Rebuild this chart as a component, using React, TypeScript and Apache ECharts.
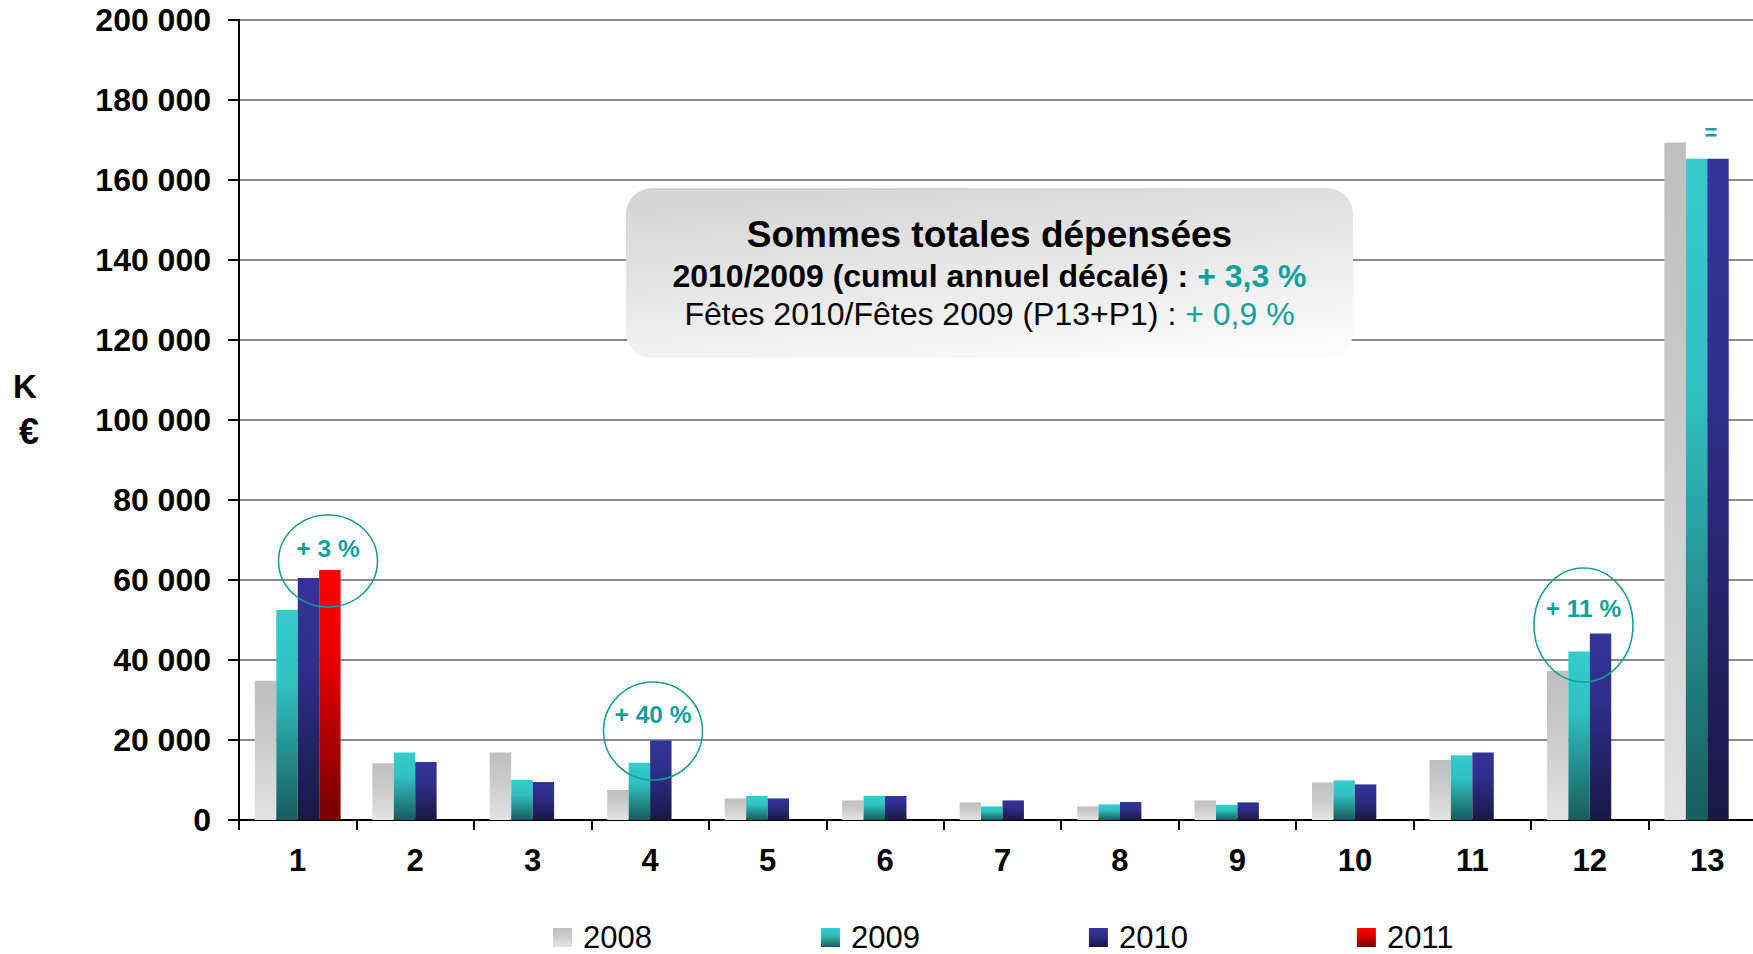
import React, { useEffect, useRef } from 'react';
import * as echarts from 'echarts';

const categories = ['1', '2', '3', '4', '5', '6', '7', '8', '9', '10', '11', '12', '13'];
const seriesNames = ['2008', '2009', '2010', '2011'];
const values2008 = [34800, 14200, 16900, 7500, 5400, 4900, 4400, 3400, 4900, 9400, 15000, 37300, 169400];
const values2009 = [52500, 16900, 10000, 14300, 6000, 6000, 3400, 3900, 3800, 9900, 16200, 42100, 165300];
const values2010 = [60500, 14500, 9500, 19900, 5400, 6000, 4900, 4500, 4400, 8900, 16900, 46600, 165300];
const values2011 = [62500, null, null, null, null, null, null, null, null, null, null, null, null];
const yTicks = { min: 0, max: 200000, interval: 20000 };
const boxTitle = 'Sommes totales dépensées';
const boxLine2 = '2010/2009 (cumul annuel décalé) : ';
const boxLine2Value = '+ 3,3 %';
const boxLine3 = 'Fêtes 2010/Fêtes 2009 (P13+P1) : ';
const boxLine3Value = '+ 0,9 %';
const circleLabels = ['+ 3 %', '+ 40 %', '+ 11 %'];
const equalLabel = '=';
const unitLabels = ['K', '€'];

const FONT = '"Liberation Sans", Arial, sans-serif';
const TEAL = '#139f9b';

export default function App() {
  const ref = useRef<HTMLDivElement>(null);
  useEffect(() => {
    const chart = echarts.init(ref.current!, null, { renderer: 'svg' });
    const grad = (c0: string, c1: string, c2: string) =>
      new echarts.graphic.LinearGradient(0, 0, 0, 1, [
        { offset: 0, color: c0 },
        { offset: 0.35, color: c1 },
        { offset: 1, color: c2 },
      ]);
    const colors = [
      grad('#bfbfbf', '#c8c8c8', '#e3e3e3'),
      grad('#33cccc', '#30c2c2', '#185c5c'),
      grad('#343399', '#302f8c', '#181846'),
      grad('#ff0000', '#e80000', '#760000'),
    ];
    const allValues = [values2008, values2009, values2010, values2011];
    const fmt = (v: number) => String(v).replace(/\B(?=(\d{3})+(?!\d))/g, ' ');

    const circles = [
      { cx: 328, cy: 561, rx: 49.5, ry: 46, ty: 548 },
      { cx: 653, cy: 731, rx: 49.5, ry: 49, ty: 714 },
      { cx: 1583.5, cy: 625, rx: 49.5, ry: 57, ty: 608 },
    ];

    const graphic: any[] = [];
    circles.forEach((c, i) => {
      graphic.push({
        type: 'ellipse',
        shape: { cx: c.cx, cy: c.cy, rx: c.rx, ry: c.ry },
        style: { fill: 'none', stroke: '#1a9d99', lineWidth: 1.6 },
        z: 10,
      });
      graphic.push({
        type: 'text',
        x: c.cx,
        y: c.ty,
        z: 11,
        style: {
          text: circleLabels[i],
          fill: TEAL,
          fontSize: 24.5,
          fontWeight: 'bold',
          fontFamily: FONT,
          align: 'center',
          verticalAlign: 'middle',
          textAlign: 'center',
          textVerticalAlign: 'middle',
        },
      });
    });
    graphic.push({
      type: 'text',
      x: 1711,
      y: 132,
      z: 11,
      style: {
        text: equalLabel,
        fill: TEAL,
        fontSize: 22,
        fontWeight: 'bold',
        fontFamily: FONT,
        align: 'center',
        verticalAlign: 'middle',
        textAlign: 'center',
        textVerticalAlign: 'middle',
      },
    });
    unitLabels.forEach((t, i) => {
      graphic.push({
        type: 'text',
        x: i === 0 ? 25 : 29,
        y: i === 0 ? 386 : 431,
        style: {
          text: t,
          fill: '#000',
          fontSize: i === 0 ? 33 : 36,
          fontWeight: 'bold',
          fontFamily: FONT,
          align: 'center',
          verticalAlign: 'middle',
          textAlign: 'center',
          textVerticalAlign: 'middle',
        },
      });
    });
    // annotation box
    graphic.push({
      type: 'rect',
      shape: { x: 626, y: 188, width: 727, height: 170, r: 26 },
      z: 5,
      style: {
        fill: new echarts.graphic.LinearGradient(0.3, 0, 0.7, 1, [
          { offset: 0, color: '#d6d6d6' },
          { offset: 1, color: '#fbfbfb' },
        ]),
      },
    });
    const centerX = 989.5;
    graphic.push({
      type: 'text',
      x: centerX,
      y: 234,
      z: 6,
      style: {
        text: boxTitle,
        fill: '#000',
        fontSize: 37,
        fontWeight: 'bold',
        fontFamily: FONT,
        align: 'center',
        verticalAlign: 'middle',
        textAlign: 'center',
        textVerticalAlign: 'middle',
      },
    });
    graphic.push({
      type: 'text',
      x: centerX,
      y: 276,
      z: 6,
      style: {
        text: `{a|${boxLine2}}{b|${boxLine2Value}}`,
        align: 'center',
        verticalAlign: 'middle',
        textAlign: 'center',
        textVerticalAlign: 'middle',
        rich: {
          a: { fill: '#000', color: '#000', fontSize: 32, fontWeight: 'bold', fontFamily: FONT },
          b: { fill: TEAL, color: TEAL, fontSize: 32, fontWeight: 'bold', fontFamily: FONT },
        },
      },
    });
    graphic.push({
      type: 'text',
      x: centerX,
      y: 314,
      z: 6,
      style: {
        text: `{a|${boxLine3}}{b|${boxLine3Value}}`,
        align: 'center',
        verticalAlign: 'middle',
        textAlign: 'center',
        textVerticalAlign: 'middle',
        rich: {
          a: { fill: '#000', color: '#000', fontSize: 32, fontFamily: FONT },
          b: { fill: TEAL, color: TEAL, fontSize: 32, fontFamily: FONT },
        },
      },
    });

    chart.setOption({
      animation: false,
      backgroundColor: '#ffffff',
      textStyle: { fontFamily: FONT },
      grid: {
        left: 239,
        top: 20,
        bottom: 134,
        right: -13,
        containLabel: false,
        outerBoundsMode: 'none',
      },
      legend: {
        data: seriesNames,
        left: 548,
        top: 917,
        icon: 'rect',
        itemWidth: 19,
        itemHeight: 19,
        itemGap: 169,
        textStyle: { fontSize: 31, color: '#000', fontFamily: FONT, padding: [0, 0, 0, 6] },
      },
      xAxis: {
        type: 'category',
        data: categories,
        boundaryGap: true,
        axisLine: { show: true, lineStyle: { color: '#000', width: 2 } },
        axisTick: { show: true, length: 10, lineStyle: { color: '#000', width: 2 } },
        axisLabel: { fontSize: 31, fontWeight: 'bold', color: '#000', margin: 25, fontFamily: FONT },
      },
      yAxis: {
        type: 'value',
        min: yTicks.min,
        max: yTicks.max,
        interval: yTicks.interval,
        axisLine: { show: true, lineStyle: { color: '#000', width: 2 } },
        axisTick: { show: true, length: 11, lineStyle: { color: '#000', width: 2 } },
        axisLabel: {
          fontSize: 32,
          fontWeight: 'bold',
          color: '#000',
          margin: 28,
          fontFamily: FONT,
          formatter: (v: number) => fmt(v),
        },
        splitLine: { show: true, lineStyle: { color: '#8a8a8a', width: 2 } },
      },
      series: seriesNames.map((name, i) => ({
        name,
        type: 'bar',
        data: allValues[i],
        barGap: '0%',
        barCategoryGap: '27%',
        itemStyle: { color: colors[i] },
      })),
      graphic,
    });
    return () => chart.dispose();
  }, []);
  return (
    <div
      ref={ref}
      style={{ position: 'absolute', left: 0, top: 0, width: 1753, height: 954, overflow: 'hidden' }}
    />
  );
}
